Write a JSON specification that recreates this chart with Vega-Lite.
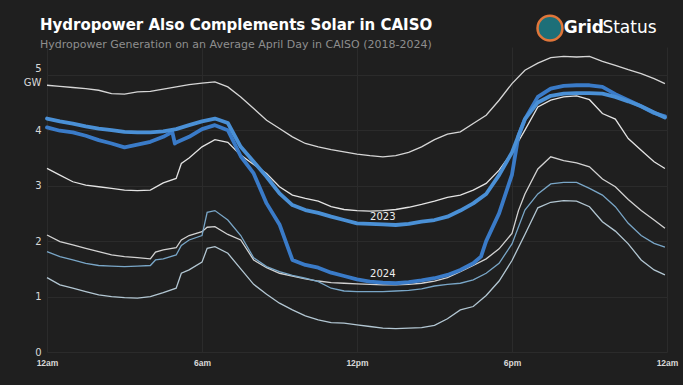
{
  "$schema": "https://vega.github.io/schema/vega-lite/v6.json",
  "width": 620,
  "height": 305,
  "autosize": {"type": "none"},
  "padding": {"left": 47, "top": 47, "right": 16, "bottom": 33},
  "background": "#1f1f1f",
  "config": {"view": {"stroke": null}, "font": "DejaVu Sans"},
  "title": {
    "text": "Hydropower Also Complements Solar in CAISO",
    "subtitle": "Hydropower Generation on an Average April Day in CAISO (2018-2024)",
    "anchor": "start",
    "frame": "group",
    "dx": -7,
    "dy": 43,
    "offset": 4,
    "font": "DejaVu Sans",
    "fontSize": 15,
    "fontWeight": "bold",
    "color": "#ffffff",
    "subtitleFont": "DejaVu Sans",
    "subtitleFontSize": 11,
    "subtitleColor": "#8e8e8e",
    "subtitlePadding": 6
  },
  "datasets": {
    "hydro": [
      {"h": 0, "y2018": 3.31, "y2019": 4.81, "y2020": 2.11, "y2021": 1.34, "y2022": 1.81, "y2023": 4.21, "y2024": 4.05},
      {"h": 0.5, "y2018": 3.19, "y2019": 4.79, "y2020": 1.99, "y2021": 1.21, "y2022": 1.72, "y2023": 4.16, "y2024": 3.99},
      {"h": 1, "y2018": 3.07, "y2019": 4.77, "y2020": 1.93, "y2021": 1.15, "y2022": 1.66, "y2023": 4.12, "y2024": 3.96},
      {"h": 1.5, "y2018": 3.01, "y2019": 4.75, "y2020": 1.87, "y2021": 1.09, "y2022": 1.60, "y2023": 4.07, "y2024": 3.90},
      {"h": 2, "y2018": 2.98, "y2019": 4.72, "y2020": 1.81, "y2021": 1.03, "y2022": 1.56, "y2023": 4.03, "y2024": 3.82},
      {"h": 2.5, "y2018": 2.95, "y2019": 4.66, "y2020": 1.75, "y2021": 1.00, "y2022": 1.55, "y2023": 4.00, "y2024": 3.76},
      {"h": 3, "y2018": 2.92, "y2019": 4.65, "y2020": 1.72, "y2021": 0.98, "y2022": 1.54, "y2023": 3.97, "y2024": 3.69},
      {"h": 3.5, "y2018": 2.91, "y2019": 4.69, "y2020": 1.70, "y2021": 0.97, "y2022": 1.55, "y2023": 3.96, "y2024": 3.74},
      {"h": 4, "y2018": 2.92, "y2019": 4.70, "y2020": 1.68, "y2021": 1.00, "y2022": 1.56, "y2023": 3.96, "y2024": 3.79},
      {"h": 4.2, "y2020": 1.80, "y2022": 1.66},
      {"h": 4.5, "y2018": 3.05, "y2019": 4.74, "y2020": 1.84, "y2021": 1.07, "y2022": 1.68, "y2023": 3.98, "y2024": 3.88},
      {"h": 4.85, "y2024": 3.97},
      {"h": 4.95, "y2024": 3.76},
      {"h": 5, "y2018": 3.13, "y2019": 4.78, "y2020": 1.88, "y2021": 1.15, "y2022": 1.75, "y2023": 4.02, "y2024": 3.78},
      {"h": 5.2, "y2018": 3.40, "y2020": 2.02, "y2021": 1.42, "y2022": 1.92},
      {"h": 5.5, "y2018": 3.50, "y2019": 4.82, "y2020": 2.10, "y2021": 1.48, "y2022": 2.02, "y2023": 4.09, "y2024": 3.88},
      {"h": 6, "y2018": 3.70, "y2019": 4.85, "y2020": 2.17, "y2021": 1.62, "y2022": 2.10, "y2023": 4.16, "y2024": 4.02},
      {"h": 6.2, "y2020": 2.25, "y2021": 1.87, "y2022": 2.52},
      {"h": 6.5, "y2018": 3.83, "y2019": 4.87, "y2020": 2.26, "y2021": 1.90, "y2022": 2.55, "y2023": 4.21, "y2024": 4.09},
      {"h": 7, "y2018": 3.78, "y2019": 4.78, "y2020": 2.12, "y2021": 1.78, "y2022": 2.38, "y2023": 4.13, "y2024": 4.00},
      {"h": 7.5, "y2018": 3.55, "y2019": 4.60, "y2020": 2.02, "y2021": 1.50, "y2022": 2.10, "y2023": 3.70, "y2024": 3.53},
      {"h": 8, "y2018": 3.38, "y2019": 4.39, "y2020": 1.66, "y2021": 1.22, "y2022": 1.70, "y2023": 3.43, "y2024": 3.22},
      {"h": 8.5, "y2018": 3.22, "y2019": 4.18, "y2020": 1.52, "y2021": 1.04, "y2022": 1.54, "y2023": 3.16, "y2024": 2.68},
      {"h": 9, "y2018": 2.98, "y2019": 4.03, "y2020": 1.42, "y2021": 0.88, "y2022": 1.45, "y2023": 2.86, "y2024": 2.30},
      {"h": 9.5, "y2018": 2.83, "y2019": 3.88, "y2020": 1.37, "y2021": 0.76, "y2022": 1.38, "y2023": 2.65, "y2024": 1.66},
      {"h": 10, "y2018": 2.77, "y2019": 3.76, "y2020": 1.32, "y2021": 0.65, "y2022": 1.33, "y2023": 2.56, "y2024": 1.57},
      {"h": 10.5, "y2018": 2.72, "y2019": 3.70, "y2020": 1.28, "y2021": 0.58, "y2022": 1.27, "y2023": 2.51, "y2024": 1.52},
      {"h": 11, "y2018": 2.62, "y2019": 3.65, "y2020": 1.25, "y2021": 0.53, "y2022": 1.15, "y2023": 2.44, "y2024": 1.43},
      {"h": 11.5, "y2018": 2.57, "y2019": 3.61, "y2020": 1.24, "y2021": 0.52, "y2022": 1.10, "y2023": 2.38, "y2024": 1.37},
      {"h": 12, "y2018": 2.55, "y2019": 3.57, "y2020": 1.23, "y2021": 0.49, "y2022": 1.09, "y2023": 2.32, "y2024": 1.31},
      {"h": 12.5, "y2018": 2.54, "y2019": 3.54, "y2020": 1.22, "y2021": 0.46, "y2022": 1.09, "y2023": 2.31, "y2024": 1.27},
      {"h": 13, "y2018": 2.55, "y2019": 3.52, "y2020": 1.21, "y2021": 0.43, "y2022": 1.09, "y2023": 2.30, "y2024": 1.25},
      {"h": 13.5, "y2018": 2.57, "y2019": 3.54, "y2020": 1.21, "y2021": 0.42, "y2022": 1.10, "y2023": 2.29, "y2024": 1.24},
      {"h": 14, "y2018": 2.61, "y2019": 3.60, "y2020": 1.22, "y2021": 0.43, "y2022": 1.11, "y2023": 2.31, "y2024": 1.26},
      {"h": 14.5, "y2018": 2.66, "y2019": 3.70, "y2020": 1.24, "y2021": 0.44, "y2022": 1.14, "y2023": 2.35, "y2024": 1.29},
      {"h": 15, "y2018": 2.72, "y2019": 3.83, "y2020": 1.28, "y2021": 0.48, "y2022": 1.19, "y2023": 2.38, "y2024": 1.33},
      {"h": 15.5, "y2018": 2.79, "y2019": 3.93, "y2020": 1.34, "y2021": 0.60, "y2022": 1.22, "y2023": 2.44, "y2024": 1.39},
      {"h": 16, "y2018": 2.83, "y2019": 3.97, "y2020": 1.45, "y2021": 0.76, "y2022": 1.24, "y2023": 2.55, "y2024": 1.48},
      {"h": 16.5, "y2018": 2.92, "y2019": 4.12, "y2020": 1.56, "y2021": 0.82, "y2022": 1.30, "y2023": 2.68, "y2024": 1.60},
      {"h": 16.8, "y2024": 1.72},
      {"h": 17, "y2018": 3.04, "y2019": 4.27, "y2020": 1.68, "y2021": 1.02, "y2022": 1.42, "y2023": 2.85, "y2024": 2.00},
      {"h": 17.5, "y2018": 3.28, "y2019": 4.54, "y2020": 1.86, "y2021": 1.28, "y2022": 1.60, "y2023": 3.19, "y2024": 2.50},
      {"h": 18, "y2018": 3.60, "y2019": 4.84, "y2020": 2.14, "y2021": 1.65, "y2022": 1.95, "y2023": 3.60, "y2024": 3.20},
      {"h": 18.25, "y2020": 2.55, "y2024": 3.90},
      {"h": 18.5, "y2018": 4.00, "y2019": 5.08, "y2020": 2.85, "y2021": 2.12, "y2022": 2.56, "y2023": 4.20, "y2024": 4.20},
      {"h": 19, "y2018": 4.42, "y2019": 5.21, "y2020": 3.30, "y2021": 2.60, "y2022": 2.85, "y2023": 4.50, "y2024": 4.60},
      {"h": 19.5, "y2018": 4.54, "y2019": 5.31, "y2020": 3.52, "y2021": 2.70, "y2022": 3.03, "y2023": 4.62, "y2024": 4.75},
      {"h": 20, "y2018": 4.60, "y2019": 5.33, "y2020": 3.45, "y2021": 2.73, "y2022": 3.06, "y2023": 4.66, "y2024": 4.80},
      {"h": 20.5, "y2018": 4.62, "y2019": 5.32, "y2020": 3.41, "y2021": 2.72, "y2022": 3.06, "y2023": 4.67, "y2024": 4.81},
      {"h": 21, "y2018": 4.55, "y2019": 5.33, "y2020": 3.34, "y2021": 2.62, "y2022": 2.95, "y2023": 4.67, "y2024": 4.81},
      {"h": 21.5, "y2018": 4.30, "y2019": 5.24, "y2020": 3.12, "y2021": 2.35, "y2022": 2.83, "y2023": 4.66, "y2024": 4.78},
      {"h": 22, "y2018": 4.20, "y2019": 5.17, "y2020": 2.98, "y2021": 2.18, "y2022": 2.62, "y2023": 4.60, "y2024": 4.65},
      {"h": 22.5, "y2018": 3.85, "y2019": 5.09, "y2020": 2.75, "y2021": 1.95, "y2022": 2.32, "y2023": 4.52, "y2024": 4.54},
      {"h": 23, "y2018": 3.64, "y2019": 5.02, "y2020": 2.55, "y2021": 1.66, "y2022": 2.10, "y2023": 4.43, "y2024": 4.43},
      {"h": 23.5, "y2018": 3.43, "y2019": 4.93, "y2020": 2.38, "y2021": 1.48, "y2022": 1.96, "y2023": 4.32, "y2024": 4.31},
      {"h": 23.92, "y2018": 3.31, "y2019": 4.84, "y2020": 2.23, "y2021": 1.39, "y2022": 1.89, "y2023": 4.23, "y2024": 4.25}
    ],
    "labels": [
      {"h": 13, "v": 2.43, "t": "2023"},
      {"h": 13, "v": 1.40, "t": "2024"}
    ]
  },
  "layer": [
    {
      "data": {"name": "hydro"},
      "transform": [
        {"fold": ["y2018", "y2019", "y2020", "y2021", "y2022"], "as": ["series", "gw"]},
        {"filter": "isValid(datum.gw)"}
      ],
      "mark": {"type": "line", "strokeWidth": 1.3},
      "encoding": {
        "x": {
          "field": "h", "type": "quantitative",
          "scale": {"domain": [0, 24], "nice": false, "zero": false},
          "axis": {
            "title": null, "values": [0, 6, 12, 18, 24],
            "labelExpr": "datum.value == 0 ? '12am' : datum.value == 6 ? '6am' : datum.value == 12 ? '12pm' : datum.value == 18 ? '6pm' : '12am'",
            "domain": false, "ticks": false, "grid": true, "gridColor": "#2b2b2b", "gridWidth": 1,
            "labelFont": "Liberation Sans", "labelFontWeight": "bold", "labelFontSize": 8.5,
            "labelColor": "#d8d8d8", "labelPadding": 6, "labelFlush": false
          }
        },
        "y": {
          "field": "gw", "type": "quantitative",
          "scale": {"domain": [0, 5.5], "nice": false},
          "axis": {
            "title": null, "values": [0, 1, 2, 3, 4, 5], "format": "d",
            "labelExpr": "datum.value == 5 ? ['5', 'GW'] : datum.label",
            "labelOffset": {"condition": {"test": "datum.value == 5", "value": -6}, "value": 0},
            "domain": false, "ticks": false, "grid": true, "gridColor": "#2b2b2b", "gridWidth": 1,
            "labelFont": "DejaVu Sans", "labelFontSize": 10, "labelColor": "#d8d8d8",
            "labelPadding": 6, "labelLineHeight": 14, "labelFlush": false
          }
        },
        "color": {
          "field": "series", "type": "nominal", "legend": null,
          "scale": {
            "domain": ["y2018", "y2019", "y2020", "y2021", "y2022", "y2023", "y2024"],
            "range": ["#e3e3e3", "#d6d6d6", "#d2d2d2", "#b3c7d3", "#79a6c7", "#4a90d6", "#3a7bc8"]
          }
        }
      }
    },
    {
      "data": {"name": "hydro"},
      "transform": [
        {"fold": ["y2024", "y2023"], "as": ["series", "gw"]},
        {"filter": "isValid(datum.gw)"}
      ],
      "mark": {"type": "line", "strokeWidth": 3.8, "strokeJoin": "round", "strokeCap": "round"},
      "encoding": {
        "x": {"field": "h", "type": "quantitative"},
        "y": {"field": "gw", "type": "quantitative"},
        "color": {"field": "series", "type": "nominal", "legend": null}
      }
    },
    {
      "data": {"name": "labels"},
      "mark": {"type": "text", "font": "DejaVu Sans", "fontSize": 10, "color": "#eeeeee", "align": "center", "baseline": "middle"},
      "encoding": {
        "x": {"field": "h", "type": "quantitative"},
        "y": {"field": "v", "type": "quantitative"},
        "text": {"field": "t"}
      }
    },
    {
      "data": {"values": [{"h": 19.47, "v": 5.84}]},
      "mark": {"type": "point", "shape": "circle", "size": 620, "filled": true, "color": "#1d6f78", "stroke": "#e0763a", "strokeWidth": 2.5, "opacity": 1},
      "encoding": {
        "x": {"field": "h", "type": "quantitative"},
        "y": {"field": "v", "type": "quantitative"}
      }
    },
    {
      "data": {"values": [{"h": 20.0, "v": 5.84, "t": "Grid"}]},
      "mark": {"type": "text", "font": "DejaVu Sans", "fontWeight": "bold", "fontSize": 17, "color": "#ffffff", "align": "left", "baseline": "middle"},
      "encoding": {
        "x": {"field": "h", "type": "quantitative"},
        "y": {"field": "v", "type": "quantitative"},
        "text": {"field": "t"}
      }
    },
    {
      "data": {"values": [{"h": 21.5, "v": 5.84, "t": "Status"}]},
      "mark": {"type": "text", "font": "DejaVu Sans", "fontSize": 17, "color": "#ffffff", "align": "left", "baseline": "middle"},
      "encoding": {
        "x": {"field": "h", "type": "quantitative"},
        "y": {"field": "v", "type": "quantitative"},
        "text": {"field": "t"}
      }
    }
  ]
}
